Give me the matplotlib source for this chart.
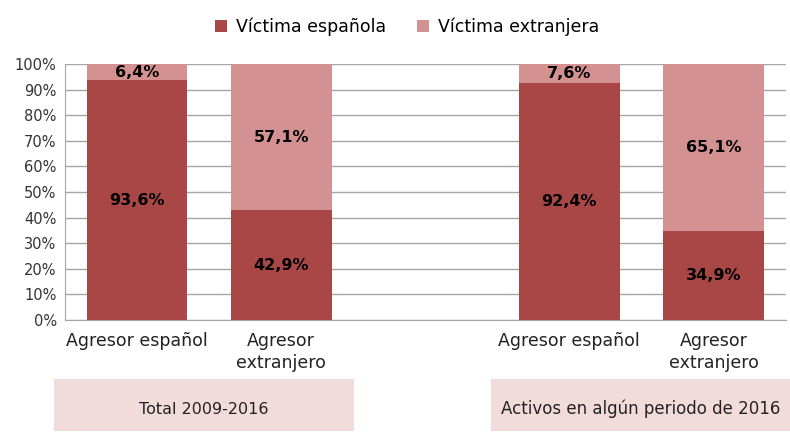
import matplotlib.pyplot as plt
from matplotlib.patches import Rectangle

# data
categorias = ["Agresor español", "Agresor\nextranjero", "", "Agresor español", "Agresor\nextranjero"]
posiciones = [0, 1, 3, 4]
victima_espanola = [93.6, 42.9, 92.4, 34.9]
victima_extranjera = [6.4, 57.1, 7.6, 65.1]
grupos = ["Total 2009-2016", "Activos en algún periodo de 2016"]

c_esp = "#a84745"
c_ext = "#d39291"
c_box = "#f2dcdb"

plt.rcParams['font.family'] = ['DejaVu Sans']

fig = plt.figure(figsize=(7.9, 4.32), dpi=100)
ax = fig.add_axes([65 / 790, 1 - 320 / 432, (785.5 - 65) / 790, (320 - 64) / 432])

ancho = 0.70
ax.bar(posiciones, victima_espanola, ancho, color=c_esp, label="Víctima española", zorder=3)
ax.bar(posiciones, victima_extranjera, ancho, bottom=victima_espanola, color=c_ext,
       label="Víctima extranjera", zorder=3)

for x, a, b in zip(posiciones, victima_espanola, victima_extranjera):
    ax.text(x, a / 2, ("%.1f%%" % a).replace(".", ","), ha="center", va="center",
            fontsize=11.5, fontweight="bold", zorder=4)
    ax.text(x, a + b / 2, ("%.1f%%" % b).replace(".", ","), ha="center", va="center",
            fontsize=11.5, fontweight="bold", zorder=4)

ax.set_xlim(-0.5, 4.5)
ax.set_ylim(0, 100)
ax.set_yticks(range(0, 101, 10))
ax.set_yticklabels(["%d%%" % v for v in range(0, 101, 10)], fontsize=10.5, color="#333333")
ax.set_xticks(range(5))
ax.set_xticklabels(categorias, fontsize=12.5, color="#222222", linespacing=1.25)
ax.tick_params(axis="both", length=0)
ax.tick_params(axis="x", pad=9)
ax.tick_params(axis="y", pad=6)
ax.grid(axis="y", color="#a6a6a6", linewidth=1, zorder=0)
for s in ["top", "right"]:
    ax.spines[s].set_visible(False)
ax.spines["left"].set_color("#a6a6a6")
ax.spines["bottom"].set_color("#a6a6a6")

leg = fig.legend(loc="upper center", bbox_to_anchor=(0.515, 0.995), ncol=2, frameon=False,
                 fontsize=12.5, handlelength=0.7, handleheight=0.7, columnspacing=1.8,
                 handletextpad=0.5)

# cajas de grupo
cajas = [(54, 354), (491, 790)]
for (x0, x1), txt, fs in zip(cajas, grupos, [11.5, 12]):
    fig.patches.append(Rectangle((x0 / 790, 1 - 431 / 432), (x1 - x0) / 790, 52 / 432,
                                 transform=fig.transFigure, facecolor=c_box, edgecolor="none"))
    fig.text((x0 + x1) / 2 / 790, 1 - 409 / 432, txt, ha="center", va="center",
             fontsize=fs, color="#222222")

fig.savefig("out.png", dpi=100)
